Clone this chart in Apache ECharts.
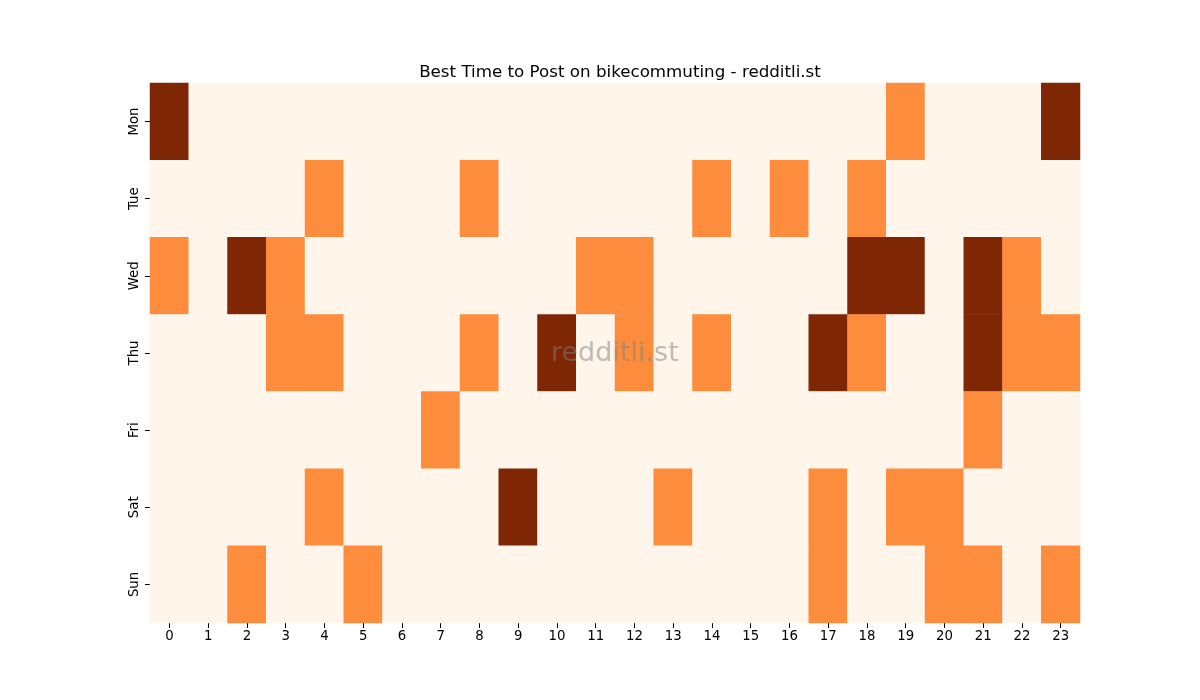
<!DOCTYPE html>
<html>
<head>
<meta charset="utf-8">
<script src="https://cdn.jsdelivr.net/npm/echarts@6/dist/echarts.min.js"></script>
<style>html,body{margin:0;padding:0;background:#fff}#c{width:1200px;height:700px}</style>
</head>
<body>
<div id="c"></div>
<script>
const hours = ['0','1','2','3','4','5','6','7','8','9','10','11','12','13','14','15','16','17','18','19','20','21','22','23'];
const days = ['Mon','Tue','Wed','Thu','Fri','Sat','Sun'];
// level per hour (0 = low, 1 = medium, 2 = high)
const mon = [2,0,0,0,0,0,0,0,0,0,0,0,0,0,0,0,0,0,0,1,0,0,0,2];
const tue = [0,0,0,0,1,0,0,0,1,0,0,0,0,0,1,0,1,0,1,0,0,0,0,0];
const wed = [1,0,2,1,0,0,0,0,0,0,0,1,1,0,0,0,0,0,2,2,0,2,1,0];
const thu = [0,0,0,1,1,0,0,0,1,0,2,0,1,0,1,0,0,2,1,0,0,2,1,1];
const fri = [0,0,0,0,0,0,0,1,0,0,0,0,0,0,0,0,0,0,0,0,0,1,0,0];
const sat = [0,0,0,0,1,0,0,0,0,2,0,0,0,1,0,0,0,1,0,1,1,0,0,0];
const sun = [0,0,1,0,0,1,0,0,0,0,0,0,0,0,0,0,0,1,0,0,1,1,0,1];
const rows = [mon,tue,wed,thu,fri,sat,sun];
const data = [];
rows.forEach((r,d)=>r.forEach((v,h)=>data.push([h,d,v])));

const chart = echarts.init(document.getElementById('c'));
chart.setOption({
  animation:false,
  backgroundColor:'#fff',
  title:{text:'Best Time to Post on bikecommuting - redditli.st',left:615,top:59,textAlign:'center',
    textStyle:{fontFamily:'DejaVu Sans',fontSize:16.7,fontWeight:'normal',color:'#000'}},
  grid:{left:150,right:120,top:83,bottom:77},
  xAxis:{type:'category',data:hours,axisLine:{show:false},splitArea:{show:false},
    axisTick:{show:true,alignWithLabel:true,length:5,lineStyle:{color:'#000'}},
    axisLabel:{fontFamily:'DejaVu Sans',fontSize:13.3,color:'#000',margin:7}},
  yAxis:{type:'category',data:days,inverse:true,axisLine:{show:false},
    axisTick:{show:true,alignWithLabel:true,length:5,lineStyle:{color:'#000'}},
    axisLabel:{fontFamily:'DejaVu Sans',fontSize:13.3,color:'#000',rotate:90,margin:9}},
  visualMap:{show:false,type:'piecewise',dimension:2,
    pieces:[{value:0,color:'#fff5eb'},{value:1,color:'#fd8d3c'},{value:2,color:'#7f2704'}]},
  series:[{type:'heatmap',data:data,itemStyle:{borderWidth:0}}],
  graphic:[{type:'text',z:100,left:551,top:340,style:{text:'redditli.st',font:'27px "DejaVu Sans"',fill:'rgba(128,128,128,0.5)'}}]
});
</script>
</body>
</html>
